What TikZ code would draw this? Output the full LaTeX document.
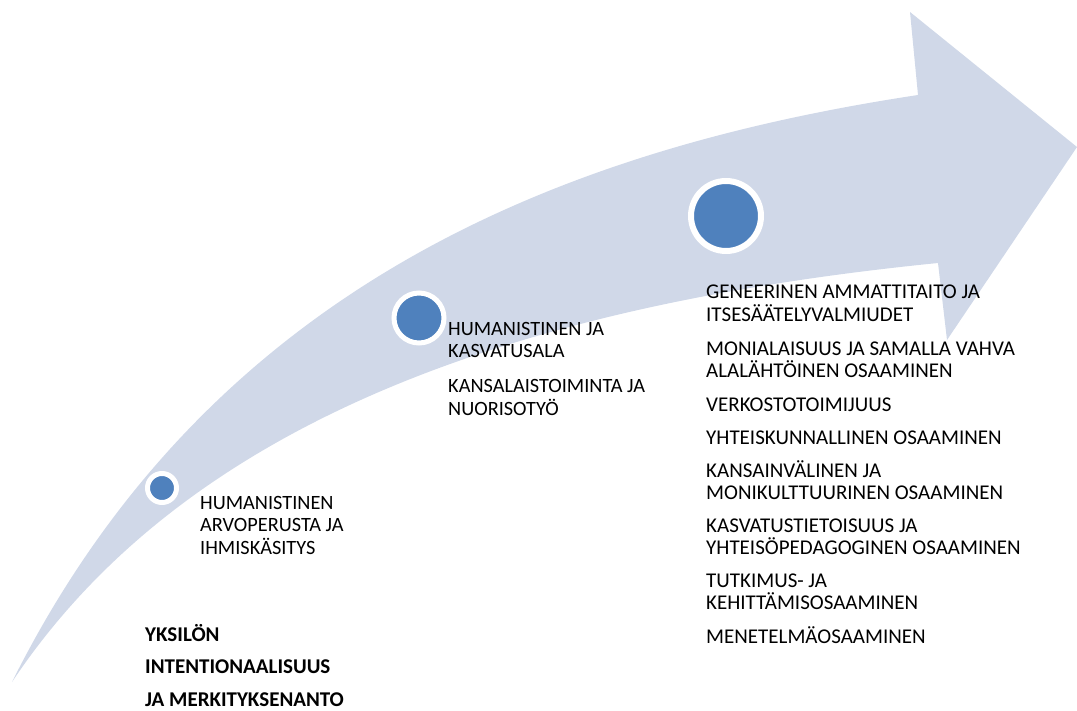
\documentclass[tikz,border=0pt]{standalone}
\usepackage{fontspec}
\setmainfont{Carlito}
\usepackage{tikz}
\usetikzlibrary{positioning}
\definecolor{arrowfill}{HTML}{D0D8E8}
\definecolor{dotblue}{HTML}{4F81BD}
\tikzset{
  dot/.style={ draw=white, circle, fill=dotblue, inner sep=0pt }
}
\tikzset{
  txt/.style={ anchor=base west, align=left, inner sep=0pt, font=\fontsize{20.3}{22.5}\selectfont }
}
\tikzset{
  txtB/.style={ txt, font=\fontsize{21}{22.5}\selectfont }
}
\tikzset{
  txtBold/.style={ anchor=base west, align=left, inner sep=0pt, font=\fontsize{21}{32.5}\selectfont\bfseries }
}

\begin{document}
\begin{tikzpicture}[x=1pt, y=-1pt]
      \useasboundingbox (0,0) rectangle (1077,711);

      % the curved arrow
      \fill[arrowfill] (12,682) .. controls (212,282) and (568,148) .. (918,95)
        -- (910,12) -- (1077,147) -- (947,340) -- (938,263)
        .. controls (538,303) and (192,412) .. (12,682) -- cycle;

      \node[dot, line width=5pt, minimum size=29pt] (c1) at (162,488) {};
      \node[dot, line width=5pt, minimum size=50pt] (c2) at (419,318) {};
      \node[dot, line width=6pt, minimum size=70pt] (c3) at (726,216) {};

      % base = baseline of the last line
      \node[txt] (t1) at (200,554) {HUMANISTINEN\\ARVOPERUSTA JA\\IHMISKÄSITYS};

      \node[txt] (t2a) at (448,358) {HUMANISTINEN JA\\KASVATUSALA};
      \node[txt] (t2b) at (448,415) {KANSALAISTOIMINTA JA\\NUORISOTYÖ};

      \node[txtB] (t3a) at (706,321.5) {GENEERINEN AMMATTITAITO JA\\ITSESÄÄTELYVALMIUDET};
      \node[txtB] (t3b) at (706,377.5) {MONIALAISUUS JA SAMALLA VAHVA\\ALALÄHTÖINEN OSAAMINEN};
      \node[txtB] (t3c) at (706,411) {VERKOSTOTOIMIJUUS};
      \node[txtB] (t3d) at (706,444) {YHTEISKUNNALLINEN OSAAMINEN};
      \node[txtB] (t3e) at (706,499.5) {KANSAINVÄLINEN JA\\MONIKULTTUURINEN OSAAMINEN};
      \node[txtB] (t3f) at (706,554.5) {KASVATUSTIETOISUUS JA\\YHTEISÖPEDAGOGINEN OSAAMINEN};
      \node[txtB] (t3g) at (706,609.5) {TUTKIMUS- JA\\KEHITTÄMISOSAAMINEN};
      \node[txtB] (t3h) at (706,643) {MENETELMÄOSAAMINEN};

      \node[txtBold] (core) at (145,706) {YKSILÖN\\INTENTIONAALISUUS\\JA MERKITYKSENANTO};
    \end{tikzpicture}
\end{document}
